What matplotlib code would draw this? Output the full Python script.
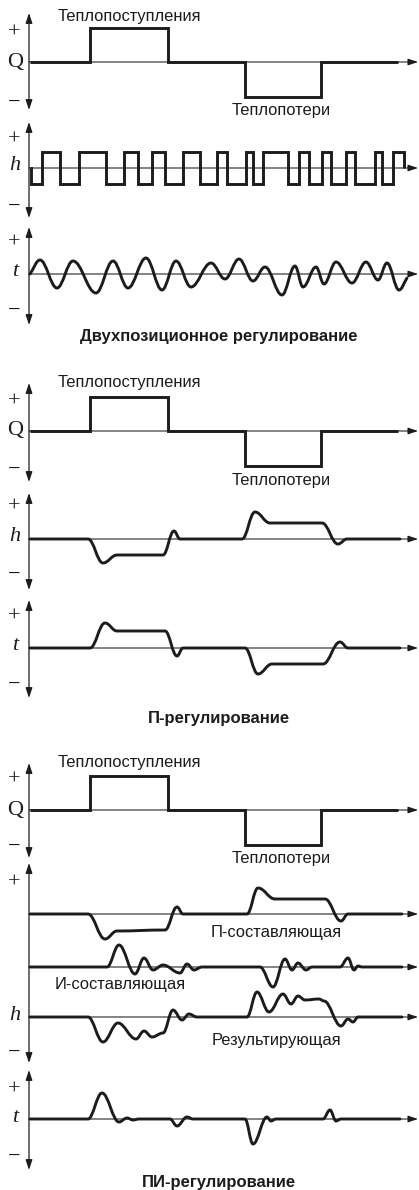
import matplotlib
matplotlib.use('Agg')
import matplotlib.pyplot as plt
from matplotlib.path import Path
from matplotlib.patches import PathPatch

# ---------------- data (time in px from the vertical axis, value in px above baseline) ----
q_times = [1, 61, 139, 216, 292, 369]
q_values = [0, 34, 0, -35, 0, 0]

# two-position control: valve position h (square wave) and temperature t
h2_times = [1, 2, 13, 31, 50, 77, 95, 109, 123, 136, 154, 171, 188, 198, 217, 224,
            234, 259, 270, 280, 293, 302, 317, 326, 346, 353, 364, 375]
h2_values = [0, -16, 16, -16, 16, -16, 16, -16, 16, -16, 16, -16, 16, -16, 16, -16,
             16, -16, 16, -16, 16, -16, 16, -16, 16, -16, 16, 0]
t2_times = [1, 11, 28, 44, 67, 84, 99, 117, 133, 147, 162, 182, 196, 210, 224, 236,
            253, 266, 274, 287, 295, 307, 323, 337, 349, 358, 370, 378]
t2_values = [0, 14, -14, 13, -19, 13, -14, 16, -16, 13, -13, 11, -5, 15, -7, 7,
             -21, 8, -13, 7, -10, 12, -9, 12, -6, 11, -16, -4]

# P control
hp_times = [1, 59, 74, 88, 134, 145, 151, 213, 226, 241, 293, 309, 318, 371]
hp_values = [0, 0, -24, -16, -16, 8, 0, 0, 27, 16, 16, -5, 0, 0]
tp_times = [1, 61, 76, 88, 136, 148, 154, 216, 229, 243, 294, 311, 319, 371]
tp_values = [0, 0, 25, 17, 17, -8, 0, 0, -26, -16, -16, 6, 0, 0]

# PI control
pc_times = [1, 59, 76, 88, 136, 148, 154, 218, 229, 246, 296, 312, 319, 373]
pc_values = [0, 0, -25, -17, -16, 7, 0, 0, 26, 15, 15, -7, 0, 0]
ic_times = [1, 78, 90, 106, 115, 124, 134, 151, 158, 165, 173, 231, 244, 256, 263,
            269, 277, 283, 311, 319, 325, 329, 333, 373]
ic_values = [0, 0, 22, -7, 9, -3, 2, -6, 3, -3, 0, 0, -20, 8, -3, 4, -3, 0, 0, 9, -3, 1, 0, 0]
rs_times = [1, 59, 74, 89, 107, 115, 123, 134, 144, 153, 160, 168, 218, 228, 240,
            254, 262, 269, 276, 290, 295, 312, 319, 324, 329, 373]
rs_values = [0, 0, -25, -6, -22, -14, -20, -16, 7, -3, 3, 0, 0, 25, 5, 23, 13, 21,
             17, 18, 16, -9, -2, -5, 0, 0]
tpi_times = [1, 59, 73, 90, 98, 104, 110, 141, 148, 158, 164, 216, 224, 238, 242,
             247, 294, 301, 307, 312, 371]
tpi_values = [0, 0, 26, -3, 1, -1, 0, 0, -7, 2, 0, 0, -25, 2, -2, 0, 0, 9, -2, 0, 0]

heat_in_label = 'Теплопоступления'
heat_out_label = 'Теплопотери'
titles = ['Двухпозиционное регулирование', 'П-регулирование', 'ПИ-регулирование']
pi_labels = ['П-составляющая', 'И-составляющая', 'Результирующая']

# ---------------- drawing ----------------
W, H = 419, 1190
AX0 = 29
INK = '#1c1c1c'
LW = 2.1
ALW = 0.9
fig = plt.figure(figsize=(W / 100, H / 100), dpi=100)
fig.patch.set_facecolor('white')

HEAD = '-|>,head_length=0.6,head_width=0.2'
HEAD2 = '<|-|>,head_length=0.6,head_width=0.2'


def strip(top, bottom, base):
    ax = fig.add_axes([0, 1 - bottom / H, 1, (bottom - top) / H])
    ax.set_xlim(-AX0, W - AX0)
    ax.set_ylim(base - bottom, base - top)
    ax.axis('off')
    return ax


def vaxis(ax, top, bottom, base):
    ax.annotate('', xy=(0, base - top), xytext=(0, base - bottom),
                arrowprops=dict(arrowstyle=HEAD2, lw=ALW, color=INK,
                                shrinkA=0, shrinkB=0, mutation_scale=10),
                annotation_clip=False)


def haxis(ax):
    ax.annotate('', xy=(W - AX0 - 1, 0), xytext=(0, 0),
                arrowprops=dict(arrowstyle=HEAD, lw=ALW * 0.85, color=INK,
                                shrinkA=0, shrinkB=0, mutation_scale=10),
                annotation_clip=False)


def steps(ax, xs, ys):
    ax.plot(xs, ys, drawstyle='steps-post', color=INK, lw=LW,
            solid_joinstyle='miter', solid_capstyle='butt', clip_on=False)


def smooth(ax, xs, ys, k=0.4):
    verts = [(xs[0], ys[0])]
    codes = [Path.MOVETO]
    n = len(xs)
    for i in range(1, n):
        x0, y0, x1, y1 = xs[i - 1], ys[i - 1], xs[i], ys[i]
        dx = x1 - x0
        s0 = 0 if i - 1 > 0 else (y1 - y0) / dx
        s1 = 0 if i < n - 1 else (y1 - y0) / dx
        verts += [(x0 + k * dx, y0 + s0 * k * dx), (x1 - k * dx, y1 - s1 * k * dx), (x1, y1)]
        codes += [Path.CURVE4] * 3
    ax.add_patch(PathPatch(Path(verts, codes), fill=False, lw=LW, ec=INK,
                           capstyle='round', joinstyle='round', clip_on=False))


def txt(x, y, s, **kw):
    fig.text(x / W, 1 - y / H, s, ha='center', va='center', color=INK, **kw)


SERIF = dict(family='Liberation Serif', fontsize=16)
SANS = dict(family='Liberation Sans', fontsize=11.9)
BOLD = dict(family='Liberation Sans', fontsize=12, fontweight='bold')


def signs(top_y, mid_y, bot_y, sym, italic):
    txt(14, top_y, '+', **SERIF)
    txt(15, mid_y, sym, style='italic' if italic else 'normal', **SERIF)
    txt(14, bot_y, '\u2212', **SERIF)


def q_strip(top, bottom, base, y_in, y_out, ys):
    ax = strip(top, bottom, base)
    haxis(ax)
    vaxis(ax, top, bottom, base)
    steps(ax, q_times, q_values)
    txt(129, y_in, heat_in_label, **SANS)
    txt(281, y_out, heat_out_label, **SANS)
    signs(ys[0], base, ys[1], 'Q', False)


# ---- panel 1: two-position ----
q_strip(13, 110, 62, 16, 111, (33, 103))
ax = strip(122, 218, 168)
haxis(ax); vaxis(ax, 122, 218, 168)
steps(ax, h2_times, h2_values)
signs(140, 166, 207, 'h', True)
ax = strip(227, 325, 274)
haxis(ax); vaxis(ax, 227, 325, 274)
smooth(ax, t2_times, t2_values, k=0.38)
signs(243, 272, 311, 't', True)
txt(219, 337, titles[0], **BOLD)

# ---- panel 2: P ----
q_strip(383, 482, 431, 383, 480, (402, 470))
ax = strip(493, 590, 539)
haxis(ax); vaxis(ax, 493, 590, 539)
smooth(ax, hp_times, hp_values)
signs(507, 537, 575, 'h', True)
ax = strip(600, 698, 648)
haxis(ax); vaxis(ax, 600, 698, 648)
smooth(ax, tp_times, tp_values)
signs(617, 646, 685, 't', True)
txt(219, 719, titles[1], **BOLD)

# ---- panel 3: PI ----
q_strip(763, 858, 810, 763, 858, (780, 847))
ax = strip(863, 1063, 914)
vaxis(ax, 863, 1063, 914)
haxis(ax)
smooth(ax, pc_times, pc_values)
ax = strip(863, 1063, 967)
haxis(ax)
smooth(ax, ic_times, ic_values, k=0.38)
ax = strip(863, 1063, 1017)
haxis(ax)
smooth(ax, rs_times, rs_values, k=0.38)
signs(883, 1015, 1053, 'h', True)
txt(276, 933, pi_labels[0], **SANS)
txt(120, 985, pi_labels[1], **SANS)
txt(276, 1040, pi_labels[2], **SANS)
ax = strip(1070, 1170, 1119)
haxis(ax); vaxis(ax, 1070, 1170, 1119)
smooth(ax, tpi_times, tpi_values, k=0.38)
signs(1090, 1117, 1157, 't', True)
txt(219, 1182, titles[2], **BOLD)

fig.savefig('out.png', dpi=100, facecolor='white')
